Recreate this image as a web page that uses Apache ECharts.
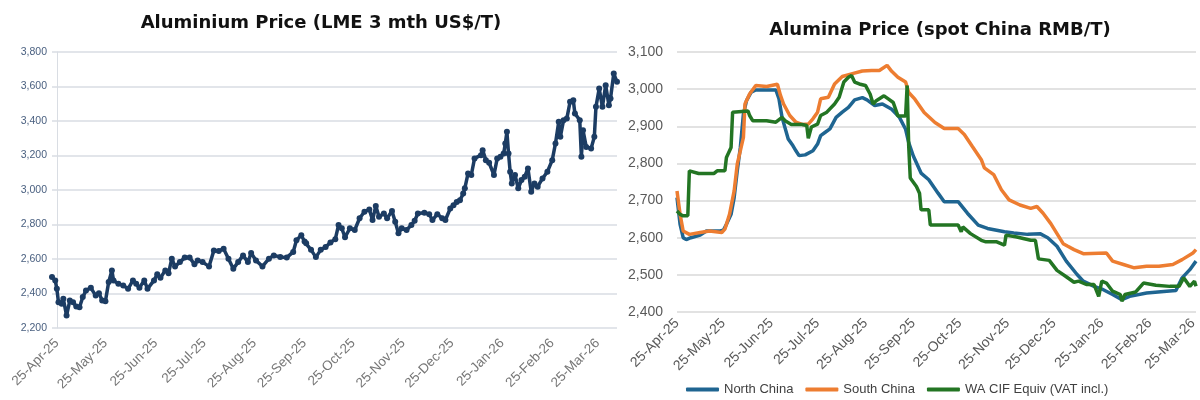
<!DOCTYPE html>
<html>
<head>
<meta charset="utf-8">
<script src="https://cdn.jsdelivr.net/npm/echarts@6/dist/echarts.min.js"></script>
<style>
html,body{margin:0;padding:0;background:#fff;}
#c{width:1200px;height:400px;}
</style>
</head>
<body>
<div id="c"></div>
<script>
// x values are day offsets from 25-Apr-2025
const tickDates = ['2025-04-25','2025-05-25','2025-06-25','2025-07-25','2025-08-25','2025-09-25','2025-10-25','2025-11-25','2025-12-25','2026-01-25','2026-02-25','2026-03-25'];
const tickLabels = ['25-Apr-25','25-May-25','25-Jun-25','25-Jul-25','25-Aug-25','25-Sep-25','25-Oct-25','25-Nov-25','25-Dec-25','25-Jan-26','25-Feb-26','25-Mar-26'];

// Aluminium LME 3 mth (US$/T)
const alDays = [-3,-1,0,1,3,4,6,8,10,12,14,16,18,21,24,26,28,30,32,34,35,38,41,44,47,49,51,54,56,60,62,64,67,69,71,73,76,79,82,85,87,90,94,97,100,103,106,109,112,115,118,120,123,127,131,134,138,142,146,148,151,153,154,157,160,163,166,169,172,174,176,178,181,184,187,190,193,195,197,199,202,204,207,209,211,213,216,219,221,223,227,230,232,235,238,240,243,245,247,249,251,252,254,256,258,262,263,265,267,270,272,274,276,277,278,279,280,281,283,285,287,289,291,293,295,297,300,303,306,308,310,311,313,315,317,319,320,323,324,325,327,330,332,333,335,337,339,341,342,344,346];
const alPrice = [2495,2476,2427,2349,2340,2369,2272,2359,2349,2324,2320,2379,2417,2433,2388,2402,2359,2355,2466,2534,2476,2456,2447,2427,2476,2456,2433,2476,2427,2476,2511,2491,2534,2518,2602,2557,2582,2608,2608,2569,2592,2582,2557,2650,2646,2660,2602,2544,2582,2621,2582,2635,2592,2557,2602,2621,2612,2608,2641,2709,2738,2701,2692,2653,2611,2653,2669,2696,2715,2797,2778,2726,2778,2768,2836,2874,2887,2826,2907,2845,2864,2836,2878,2816,2749,2778,2768,2797,2822,2864,2868,2860,2826,2860,2836,2826,2893,2912,2931,2941,2979,3010,3096,3087,3183,3202,3231,3173,3158,3087,3183,3193,3212,3270,3337,3212,3106,3038,3087,3010,3058,3077,3125,2990,3038,3019,3067,3106,3173,3270,3395,3308,3405,3414,3511,3520,3443,3405,3193,3347,3250,3241,3308,3482,3588,3482,3607,3492,3530,3675,3627];

// Alumina spot China (RMB/T)
const northDays = [0,2,4,6,9,15,19,28,30,32,35,37,39,41,43,45,48,51,58,64,66,68,72,75,77,79,83,88,91,93,96,99,103,107,111,115,120,123,128,133,139,144,148,150,153,158,163,169,173,182,188,195,201,212,218,227,235,240,246,252,259,263,270,276,282,288,293,304,317,323,327,332,336];
const northVals = [2708,2636,2600,2595,2600,2607,2618,2618,2620,2636,2663,2708,2780,2843,2933,2969,2992,2998,2998,2998,2974,2924,2866,2848,2834,2821,2823,2834,2852,2875,2884,2893,2924,2938,2951,2971,2977,2971,2956,2960,2946,2924,2892,2856,2820,2774,2756,2720,2697,2697,2666,2634,2625,2616,2613,2609,2611,2600,2577,2537,2501,2483,2469,2460,2447,2433,2442,2451,2456,2458,2492,2514,2537];
const southDays = [0,2,4,8,15,21,29,31,34,37,39,43,44,47,51,58,65,67,69,73,77,81,85,88,91,93,98,102,107,113,120,126,131,136,139,143,148,150,154,160,167,173,182,186,191,197,199,205,210,215,222,229,233,237,242,246,250,253,257,263,278,282,289,296,304,312,321,327,334,336];
const southVals = [2726,2663,2618,2609,2614,2618,2614,2623,2663,2726,2798,2870,2960,2987,3010,3007,3013,2983,2960,2929,2911,2905,2906,2920,2938,2974,2978,3014,3034,3041,3049,3050,3050,3064,3048,3032,3019,2991,2973,2937,2910,2894,2894,2878,2847,2810,2788,2770,2729,2702,2688,2679,2684,2666,2638,2611,2584,2577,2568,2557,2559,2537,2528,2519,2523,2523,2528,2541,2559,2568];
const waDays = [0,2,4,7,8,9,14,24,26,31,32,35,36,37,46,47,49,58,64,68,70,74,81,84,85,87,91,93,97,102,105,108,111,113,115,118,122,125,127,129,134,137,140,143,148,149,150,151,155,157,158,163,164,182,184,185,190,197,200,207,212,213,220,229,232,234,241,246,252,257,260,265,270,273,275,278,282,287,288,290,297,302,310,319,325,328,332,335,336];
const waVals = [2672,2663,2659,2659,2780,2782,2773,2773,2780,2780,2816,2843,2938,2941,2941,2929,2915,2915,2911,2924,2915,2905,2905,2902,2868,2898,2906,2929,2938,2960,2978,3019,3032,3037,3019,3014,3010,2987,2960,2969,2982,2973,2964,2928,2928,3010,2847,2761,2738,2720,2675,2675,2634,2634,2616,2629,2611,2593,2589,2589,2580,2607,2602,2593,2593,2543,2539,2512,2495,2480,2483,2474,2474,2442,2483,2478,2456,2447,2429,2447,2454,2478,2472,2469,2469,2492,2469,2483,2469];

const BASE = Date.UTC(2025, 3, 25);
function dayOf(s) { const p = s.split('-').map(Number); return Math.round((Date.UTC(p[0], p[1] - 1, p[2]) - BASE) / 86400000); }
const tickDays = tickDates.map(dayOf);
function fmtTick(v) { const i = tickDays.indexOf(Math.round(v)); return i >= 0 ? tickLabels[i] : ''; }
function pairs(xs, ys) { return xs.map((x, i) => [x, ys[i]]); }

const chart = echarts.init(document.getElementById('c'), null, { renderer: 'canvas' });
const sans = '"Liberation Sans", Arial, sans-serif';
const option = {
  backgroundColor: '#ffffff',
  animation: false,
  title: [
    { text: 'Aluminium Price (LME 3 mth US$/T)', left: 316, top: 9, textAlign: 'center',
      textStyle: { fontFamily: '"DejaVu Sans", sans-serif', fontWeight: 'bold', fontSize: 18, color: '#111' } },
    { text: 'Alumina Price (spot China RMB/T)', left: 935, top: 16, textAlign: 'center',
      textStyle: { fontFamily: '"DejaVu Sans", sans-serif', fontWeight: 'bold', fontSize: 18, color: '#111' } }
  ],
  legend: {
    data: ['North China', 'South China', 'WA CIF Equiv (VAT incl.)'],
    left: 681, top: 378, icon: 'roundRect', itemWidth: 33, itemHeight: 4, itemGap: 12,
    textStyle: { fontFamily: sans, fontSize: 13, color: '#404040' }
  },
  grid: [
    { left: 52, top: 52, width: 565, height: 276 },
    { left: 677, top: 52, width: 523, height: 260 }
  ],
  xAxis: [
    { gridIndex: 0, type: 'value', min: -3, max: 346,
      axisLine: { show: false }, axisTick: { show: false, customValues: tickDays }, splitLine: { show: false },
      axisLabel: { customValues: tickDays, formatter: fmtTick, rotate: 45, margin: 13,
        fontFamily: sans, fontSize: 13.5, color: '#767676' } },
    { gridIndex: 1, type: 'value', min: 0, max: 336,
      axisLine: { show: false }, axisTick: { show: false, customValues: tickDays }, splitLine: { show: false },
      axisLabel: { customValues: tickDays, formatter: fmtTick, rotate: 45, margin: 9,
        fontFamily: sans, fontSize: 14, color: '#595959' } }
  ],
  yAxis: [
    { gridIndex: 0, type: 'value', min: 2200, max: 3800, interval: 200,
      axisLine: { show: true, lineStyle: { color: '#d9dde3', width: 1 } }, axisTick: { show: false },
      splitLine: { lineStyle: { color: '#d9dde3', width: 1.5 } },
      axisLabel: { margin: 5, fontFamily: sans, fontSize: 10.5, color: '#4a6080',
        formatter: v => v.toLocaleString('en-US') } },
    { gridIndex: 1, type: 'value', min: 2400, max: 3100, interval: 100,
      axisLine: { show: false }, axisTick: { show: false },
      splitLine: { lineStyle: { color: '#d9d9d9', width: 1.5 } },
      axisLabel: { margin: 14, fontFamily: sans, fontSize: 14, color: '#595959',
        formatter: v => v.toLocaleString('en-US') } }
  ],
  series: [
    { name: 'Aluminium', type: 'line', xAxisIndex: 0, yAxisIndex: 0, data: pairs(alDays, alPrice),
      symbol: 'circle', symbolSize: 6, showAllSymbol: true,
      itemStyle: { color: '#1c3c63' }, lineStyle: { color: '#1c3c63', width: 3.5 } },
    { name: 'North China', type: 'line', xAxisIndex: 1, yAxisIndex: 1, data: pairs(northDays, northVals),
      showSymbol: false, symbol: 'none', itemStyle: { color: '#1f6591' }, lineStyle: { color: '#1f6591', width: 3.5 } },
    { name: 'South China', type: 'line', xAxisIndex: 1, yAxisIndex: 1, data: pairs(southDays, southVals),
      showSymbol: false, symbol: 'none', itemStyle: { color: '#ed7d31' }, lineStyle: { color: '#ed7d31', width: 3.5 } },
    { name: 'WA CIF Equiv (VAT incl.)', type: 'line', xAxisIndex: 1, yAxisIndex: 1, data: pairs(waDays, waVals),
      showSymbol: false, symbol: 'none', itemStyle: { color: '#237523' }, lineStyle: { color: '#237523', width: 3.5 } }
  ]
};
chart.setOption(option);
</script>
</body>
</html>
